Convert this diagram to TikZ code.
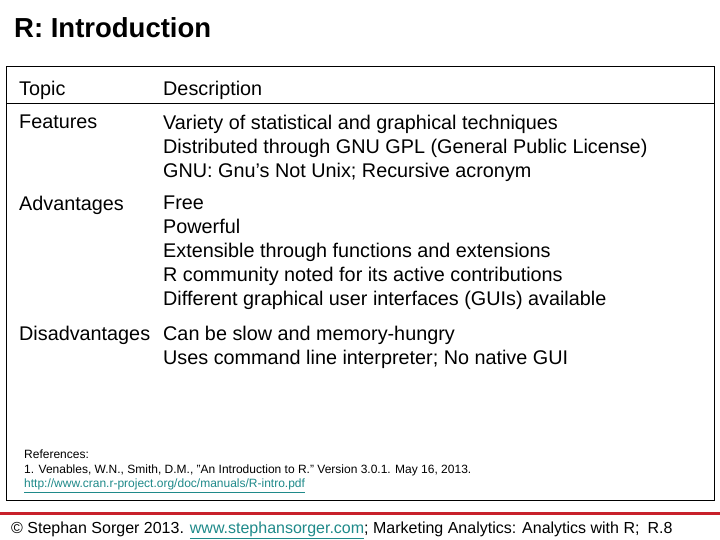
\documentclass[tikz,border=0pt]{standalone}
\usepackage{fontspec}
\setmainfont{Liberation Sans}
\definecolor{lnk}{HTML}{1F8A8A}
\definecolor{redl}{HTML}{C8202A}
\begin{document}
\begin{tikzpicture}[x=1pt,y=-1pt,
  txt/.style={anchor=north west,inner sep=0pt,font=\fontsize{19.8}{24}\selectfont,align=left},
  ref/.style={anchor=north west,inner sep=0pt,font=\fontsize{12}{14.5}\selectfont,align=left}]
\useasboundingbox[fill=white] (0,0) rectangle (720,540);
\node[anchor=west,inner sep=0pt,font=\fontsize{27.5}{30}\selectfont\bfseries] (title) at (14,28) {R: Introduction};
\draw[line width=0.8pt] (6,66) rectangle (714,500);
\draw[line width=0.8pt] (6,103) -- (714,103);
\node[txt] (t1) at (19,81) {Topic};
\node[txt] (d1) at (163,81) {Description};
\node[txt] (t2) at (19,115) {Features};
\node[txt] (d2) at (163,115) {Variety of statistical and graphical techniques\\Distributed through GNU GPL (General Public License)\\GNU: Gnu’s Not Unix; Recursive acronym};
\node[txt] (t3) at (19,196) {Advantages};
\node[txt] (d3) at (163,196) {Free\\Powerful\\Extensible through functions and extensions\\R community noted for its active contributions\\Different graphical user interfaces (GUIs) available};
\node[txt] (t4) at (19,326) {Disadvantages};
\node[txt] (d4) at (163,326) {Can be slow and memory-hungry\\Uses command line interpreter; No native GUI};
\node[ref] (refs) at (24,450) {References:\\1. Venables, W.N., Smith, D.M., "An Introduction to R." Version 3.0.1. May 16, 2013.\\\textcolor{lnk}{\underline{http://www.cran.r-project.org/doc/manuals/R-intro.pdf}}};
\draw[redl,line width=3pt] (0,513) -- (720,513);
\node[anchor=west,inner sep=0pt,font=\fontsize{16}{20}\selectfont] (foot) at (11,530) {© Stephan Sorger 2013. \textcolor{lnk}{\underline{www.stephansorger.com}}; Marketing Analytics: Analytics with R;\enspace R.8};
\end{tikzpicture}
\end{document}
